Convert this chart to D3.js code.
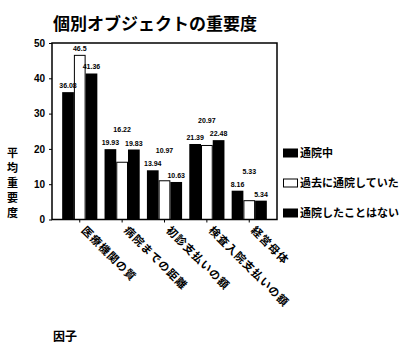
<!DOCTYPE html>
<html><head><meta charset="utf-8">
<script src="https://cdn.jsdelivr.net/npm/d3@7"></script>
<style>
html,body{margin:0;padding:0;background:#fff;}
svg{display:block;font-family:"Noto Sans CJK JP","Noto Sans",sans-serif;}
</style></head>
<body>
<svg id="c" width="407" height="347"></svg>
<script>
const categories = ["医療機関の質","病院までの距離","初診支払いの額","検査入院支払いの額","経営母体"];
const seriesNames = ["通院中","過去に通院していた","通院したことはない"];
const seriesFill = ["#000","#fff","#000"];
const current = [36.08,19.93,13.94,21.39,8.16];
const past = [46.5,16.22,10.97,20.97,5.33];
const never = [41.36,19.83,10.63,22.48,5.34];
const yTicks = [0,10,20,30,40,50];
const title = "個別オブジェクトの重要度";
const yTitle = "平均重要度";
const xTitle = "因子";

const series = [current, past, never];
const svg = d3.select("#c");
const y = d3.scaleLinear().domain([0,50]).range([219.5,43]);
const x0 = d3.scaleBand().domain(categories).range([52,277]).paddingInner(0.17).paddingOuter(0.24);
const x1 = d3.scaleBand().domain(d3.range(3)).range([0,x0.bandwidth()]);

// title
svg.append("text").attr("x",53).attr("y",30).attr("font-size",17).attr("font-weight","bold").text(title);

// bars
const g = svg.append("g");
categories.forEach((c,i)=>{
  series.forEach((s,j)=>{
    g.append("rect")
      .attr("x",x0(c)+x1(j)+(j===1?0.5:0)).attr("y",y(s[i]))
      .attr("width",x1.bandwidth()-(j===1?1:0)).attr("height",y(0)-y(s[i]))
      .attr("fill",seriesFill[j]).attr("stroke","#000").attr("stroke-width",j===1?1:0);
  });
});

// value labels
categories.forEach((c,i)=>{
  const ly = series.map(s=>y(s[i])-4);
  ly[1] = Math.min(ly[1], Math.min(ly[0],ly[2])-13);
  series.forEach((s,j)=>{
    svg.append("text").attr("x",x0(c)+x1(j)+x1.bandwidth()/2).attr("y",ly[j])
      .attr("text-anchor","middle").attr("font-size",7).attr("font-weight","bold")
      .attr("font-family","Liberation Sans, Arial, sans-serif")
      .text(String(s[i]));
  });
});

// frame
svg.append("rect").attr("x",52).attr("y",43).attr("width",225).attr("height",y(0)-43)
  .attr("fill","none").attr("stroke","#000").attr("stroke-width",1.5);

// y axis
const ya = svg.append("g").attr("transform","translate(52,0)")
  .call(d3.axisLeft(y).tickValues(yTicks).tickSize(3).tickPadding(4));
ya.select(".domain").remove();
ya.selectAll("text").attr("font-size",10).attr("font-weight","bold").attr("font-family","Liberation Sans, Arial, sans-serif");

// x axis ticks
const xa = svg.append("g").attr("transform",`translate(0,${y(0)})`)
  .call(d3.axisBottom(x0).tickSize(3).tickFormat(""));
xa.select(".domain").remove();
categories.forEach(c=>{
  const cx = x0(c)+x0.bandwidth()/2;
  svg.append("text").attr("transform",`translate(${cx+1},${y(0)+6}) rotate(45)`)
    .attr("x",4).attr("dy","0.35em").attr("font-size",11).attr("font-weight","bold")
    .attr("letter-spacing",1).text(c);
});

// y title (vertical)
svg.append("text").attr("x",12.5).attr("y",147).attr("font-size",11).attr("font-weight","bold")
  .attr("writing-mode","vertical-rl").attr("letter-spacing",4).text(yTitle);

// x title
svg.append("text").attr("x",53).attr("y",341).attr("font-size",12).attr("font-weight","bold").text(xTitle);

// legend
const ly0 = [153,183,213];
seriesNames.forEach((n,j)=>{
  svg.append("rect").attr("x",283.5).attr("y",ly0[j]-4).attr("width",14).attr("height",8)
    .attr("fill",seriesFill[j]).attr("stroke","#000").attr("stroke-width",1);
  svg.append("text").attr("x",300).attr("y",ly0[j]).attr("dy","0.35em")
    .attr("font-size",11).attr("font-weight","bold").text(n);
});
</script>
</body></html>
